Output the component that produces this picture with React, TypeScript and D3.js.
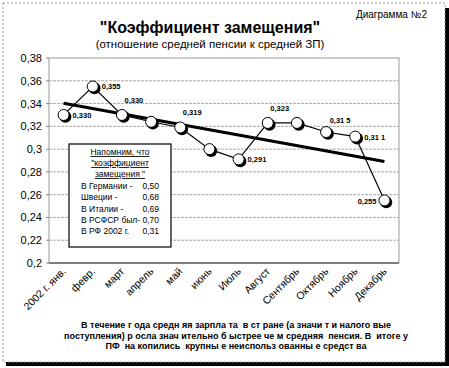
import { useMemo } from 'react';
import * as d3 from 'd3';

const months = ['2002 г. янв.', 'февр.', 'март', 'апрель', 'май', 'июнь', 'Июль', 'Август', 'Сентябрь', 'Октябрь', 'Ноябрь', 'Декабрь'];
const values = [0.330, 0.355, 0.330, 0.324, 0.319, 0.300, 0.291, 0.323, 0.323, 0.315, 0.311, 0.255];
// label text per point (null = no label), as printed in the source
const pointLabels = ['0,330', '0,355', '0,330', null, '0,319', null, '0,291', '0,323', null, '0,31 5', '0,31 1', '0,255'];
const labelSide = ['right', 'right', 'top', null, 'top', null, 'right', 'top', null, 'topright', 'right', 'left'];
const yTicks = [0.2, 0.22, 0.24, 0.26, 0.28, 0.3, 0.32, 0.34, 0.36, 0.38];
const noteHead = ['Напомним, что', '"коэффициент', 'замещения "'];
const noteRows = [
    ['В Германии -', '0,50'],
    ['Швеции -', '0,68'],
    ['В Италии -', '0,69'],
    ['В РСФСР был-', '0,70'],
    ['В РФ 2002 г.', '0,31'],
];
const footer = [
    'В течение г ода средн яя зарпла та  в ст ране (а значи т и налого вые',
    'поступления) р осла знач ительно б ыстрее че м средняя  пенсия. В  итоге у',
    'ПФ  на копились  крупны е неиспольз ованны е средст ва',
];

const W = 449;
const H = 368;
const marginLeft = 49;
const marginRight = 399;
const marginTop = 58;
const marginBottom = 263;
const font = 'Liberation Sans, Arial, sans-serif';

export default function App() {
    const { x, y, trend } = useMemo(() => {
        const x = d3.scaleBand<number>()
            .domain(d3.range(months.length))
            .range([marginLeft, marginRight]);
        const y = d3.scaleLinear().domain([0.2, 0.38]).range([marginBottom, marginTop]);
        // linear trend (least squares)
        const n = values.length;
        const mx = d3.mean(d3.range(n)) as number;
        const my = d3.mean(values) as number;
        const sxy = d3.sum(values, (v, i) => (i - mx) * (v - my));
        const sxx = d3.sum(d3.range(n), (i) => (i - mx) ** 2);
        const slope = sxy / sxx;
        const trend = [0, n - 1].map((i) => ({ i, v: my + slope * (i - mx) }));
        return { x, y, trend };
    }, []);

    const cx = (i: number) => (x(i) as number) + x.bandwidth() / 2;

    const line = d3.line<number>()
        .x((_, i) => cx(i))
        .y((d) => y(d));

    const trendLine = d3.line<{ i: number; v: number }>()
        .x((d) => cx(d.i))
        .y((d) => y(d.v));

    const noteX = 69;
    const noteY = 144;

    return (
        <svg width={W} height={H} style={{ position: 'absolute', left: 0, top: 0, background: 'white' }} fontFamily={font}>
            {/* frame with shadow */}
            <rect x={445} y={8} width={4} height={358} fill="black" />
            <rect x={6} y={362} width={443} height={4} fill="black" />
            <rect x={3} y={3} width={442} height={359} fill="white" stroke="#999" strokeDasharray="2 2" />

            {/* titles */}
            <text x={427} y={18} fontSize={10} textAnchor="end">Диаграмма №2</text>
            <text x={210} y={33} fontSize={16} fontWeight="bold" textAnchor="middle">"Коэффициент замещения"</text>
            <text x={210} y={48} fontSize={11.5} textAnchor="middle">(отношение средней пенсии к средней ЗП)</text>

            {/* plot area */}
            <rect x={marginLeft} y={marginTop} width={marginRight - marginLeft} height={marginBottom - marginTop} fill="white" stroke="#999" />
            {yTicks.slice(1, -1).map((t) => (
                <line key={t} x1={marginLeft} x2={marginRight} y1={y(t)} y2={y(t)} stroke="#aaa" strokeDasharray="3 1" />
            ))}
            <line x1={marginLeft} x2={marginRight} y1={marginBottom} y2={marginBottom} stroke="#666" strokeWidth={1.5} />
            {yTicks.map((t) => (
                <g key={t}>
                    <line x1={marginLeft - 3} x2={marginLeft} y1={y(t)} y2={y(t)} stroke="#888" />
                    <text x={42} y={y(t) + 4} fontSize={11} textAnchor="end">{String(+t.toFixed(2)).replace('.', ',')}</text>
                </g>
            ))}
            {months.map((m, i) => (
                <text key={m} fontSize={10.5} textAnchor="end"
                    transform={`translate(${cx(i) + 3},${marginBottom + 9}) rotate(-45)`}>{m}</text>
            ))}

            {/* note box */}
            <rect x={noteX} y={noteY} width={102} height={103} fill="white" stroke="black" strokeWidth={1.2} />
            {noteHead.map((t, k) => (
                <text key={t} x={noteX + 51} y={noteY + 11 + k * 11} fontSize={8.5} textAnchor="middle" textDecoration="underline">{t}</text>
            ))}
            {noteRows.map(([a, b], k) => (
                <g key={a} fontSize={8.5}>
                    <text x={noteX + 12} y={noteY + 45 + k * 11.3}>{a}</text>
                    <text x={noteX + 90} y={noteY + 45 + k * 11.3} textAnchor="end">{b}</text>
                </g>
            ))}

            {/* data series */}
            <path d={line(values) || ''} fill="none" stroke="black" strokeWidth={1.2} />
            <path d={trendLine(trend) || ''} fill="none" stroke="black" strokeWidth={3} />
            {values.map((v, i) => (
                <g key={i}>
                    <circle cx={cx(i) + 1.8} cy={y(v) + 1.8} r={6} fill="black" />
                    <circle cx={cx(i)} cy={y(v)} r={5.5} fill="white" stroke="black" strokeWidth={1} />
                </g>
            ))}
            {values.map((v, i) => {
                const lab = pointLabels[i];
                if (!lab) return null;
                const side = labelSide[i];
                const px = cx(i);
                const py = y(v);
                let tx = px + 9;
                let ty = py + 3;
                let anchor: 'start' | 'middle' | 'end' = 'start';
                if (side === 'top') { tx = px + 12; ty = py - 12; anchor = 'middle'; }
                if (side === 'topright') { tx = px + 14; ty = py - 9; anchor = 'middle'; }
                if (side === 'left') { tx = px - 8; ty = py + 4; anchor = 'end'; }
                return (
                    <text key={i} x={tx} y={ty} fontSize={7.5} fontWeight="bold" textAnchor={anchor}>{lab}</text>
                );
            })}

            {/* footer note */}
            {footer.map((t, k) => (
                <text key={k} x={236} y={328 + k * 10.5} fontSize={9} fontWeight="bold" textAnchor="middle" style={{ whiteSpace: 'pre' }}>{t}</text>
            ))}
        </svg>
    );
}
